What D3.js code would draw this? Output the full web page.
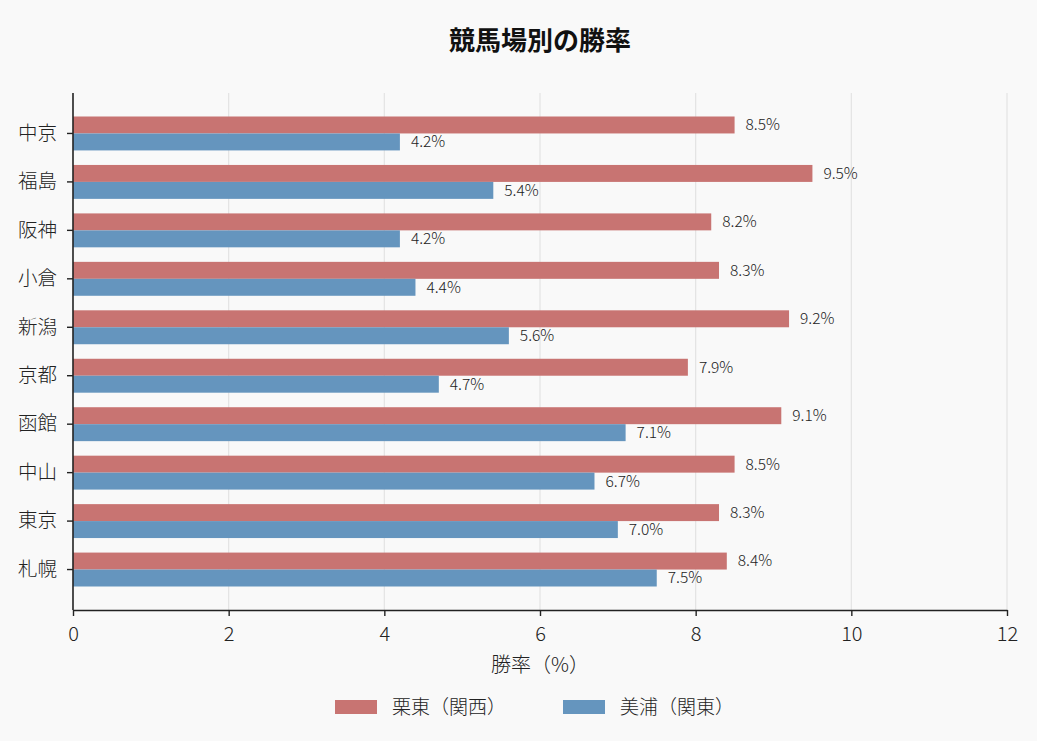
<!DOCTYPE html>
<html>
<head>
<meta charset="utf-8">
<script src="https://cdn.jsdelivr.net/npm/d3@7"></script>
<style>
  body { margin: 0; background: #f9f9f9; }
  svg { display: block; font-family: "Noto Sans CJK JP", sans-serif; font-weight: 300; }
</style>
</head>
<body>
<svg id="chart"></svg>
<script>
// data
const tracks = ["中京", "福島", "阪神", "小倉", "新潟", "京都", "函館", "中山", "東京", "札幌"];
const ritto = [8.5, 9.5, 8.2, 8.3, 9.2, 7.9, 9.1, 8.5, 8.3, 8.4];
const miho = [4.2, 5.4, 4.2, 4.4, 5.6, 4.7, 7.1, 6.7, 7.0, 7.5];
const seriesNames = ["栗東（関西）", "美浦（関東）"];
const xTicks = [0, 2, 4, 6, 8, 10, 12];

const width = 1037, height = 741;
const margin = { top: 93, right: 30, bottom: 131, left: 73 };
const colors = ["#c87472", "#6595be"];

const svg = d3.select("#chart")
  .attr("width", width)
  .attr("height", height)
  .attr("viewBox", [0, 0, width, height]);

svg.append("rect")
  .attr("width", width).attr("height", height)
  .attr("fill", "#f9f9f9");

const x = d3.scaleLinear()
  .domain([0, 12])
  .range([margin.left, width - margin.right]);

const y = d3.scaleBand()
  .domain(tracks)
  .range([margin.top, height - margin.bottom])
  .paddingInner(0)
  .paddingOuter(0.335);

const step = y.step();
const barH = step * 0.35;

// grid
svg.append("g")
  .selectAll("line")
  .data(xTicks.slice(1))
  .join("line")
  .attr("x1", d => x(d)).attr("x2", d => x(d))
  .attr("y1", margin.top).attr("y2", height - margin.bottom)
  .attr("stroke", "#e3e3e3")
  .attr("stroke-width", 1.2);

// bars
const rows = tracks.map((t, i) => ({ track: t, vals: [ritto[i], miho[i]] }));

const groups = svg.append("g")
  .selectAll("g")
  .data(rows)
  .join("g")
  .attr("transform", d => `translate(0,${y(d.track) + y.bandwidth() / 2})`);

groups.selectAll("rect")
  .data(d => d.vals.map((v, k) => ({ v, k })))
  .join("rect")
  .attr("x", x(0))
  .attr("y", d => d.k === 0 ? -barH : 0)
  .attr("width", d => x(d.v) - x(0))
  .attr("height", barH)
  .attr("fill", d => colors[d.k]);

groups.selectAll("text")
  .data(d => d.vals.map((v, k) => ({ v, k })))
  .join("text")
  .attr("x", d => x(d.v) + 11)
  .attr("y", d => d.k === 0 ? -barH / 2 : barH / 2)
  .attr("dy", "0.35em")
  .attr("font-size", 15.5)
  .attr("fill", "#222")
  .text(d => d.v.toFixed(1) + "%");

// axes
const xAxis = svg.append("g")
  .attr("transform", `translate(0,${height - margin.bottom})`)
  .call(d3.axisBottom(x).tickValues(xTicks).tickSize(6).tickPadding(11).tickSizeOuter(0));

const yAxis = svg.append("g")
  .attr("transform", `translate(${margin.left},0)`)
  .call(d3.axisLeft(y).tickSize(6).tickPadding(10).tickSizeOuter(0));

[xAxis, yAxis].forEach(a => {
  a.select(".domain").attr("stroke", "#222").attr("stroke-width", 1.6);
  a.selectAll(".tick line").attr("stroke", "#222").attr("stroke-width", 1.4);
  a.selectAll(".tick text")
    .attr("fill", "#222")
    .attr("font-size", 20)
    .attr("font-family", "Noto Sans CJK JP, sans-serif");
});
yAxis.selectAll(".tick text").attr("font-size", 19.5);

// the left spine should reach the top of the plot
yAxis.select(".domain").attr("d", `M0,${margin.top}V${height - margin.bottom}`);

// title
svg.append("text")
  .attr("x", x(6))
  .attr("y", 41)
  .attr("dy", "0.35em")
  .attr("text-anchor", "middle")
  .attr("font-size", 26)
  .attr("font-weight", "bold")
  .attr("fill", "#111")
  .text("競馬場別の勝率");

// x label
svg.append("text")
  .attr("x", x(6))
  .attr("y", 665)
  .attr("dy", "0.35em")
  .attr("text-anchor", "middle")
  .attr("font-size", 20)
  .attr("fill", "#222")
  .text("勝率（%）");

// legend
const legend = svg.append("g")
  .selectAll("g")
  .data(seriesNames)
  .join("g")
  .attr("transform", (d, i) => `translate(${335 + i * 228},707)`);

legend.append("rect")
  .attr("x", 0).attr("y", -7)
  .attr("width", 42).attr("height", 14)
  .attr("fill", (d, i) => colors[i]);

legend.append("text")
  .attr("x", 57)
  .attr("dy", "0.35em")
  .attr("font-size", 19)
  .attr("fill", "#222")
  .text(d => d);
</script>
</body>
</html>
